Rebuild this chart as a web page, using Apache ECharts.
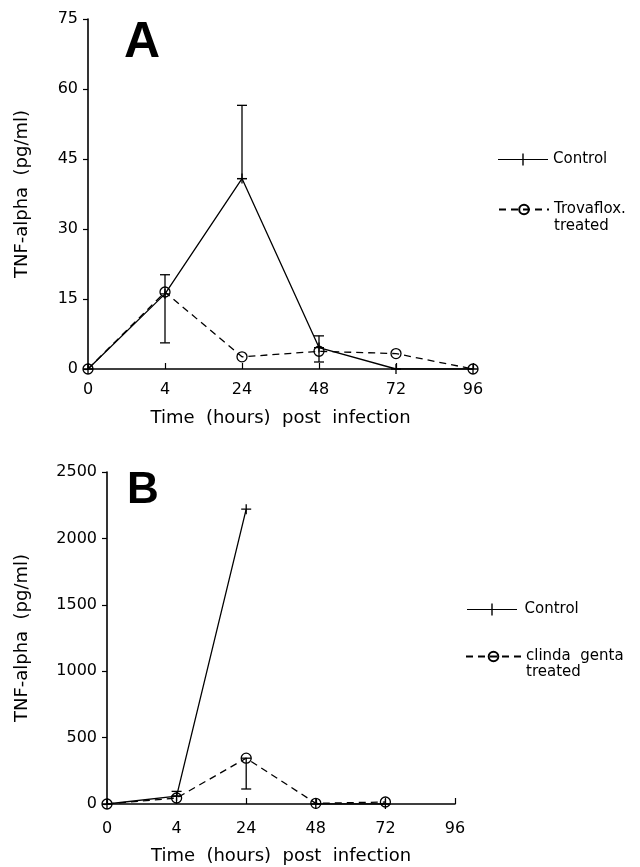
<!DOCTYPE html>
<html><head><meta charset="utf-8">
<script src="https://cdn.jsdelivr.net/npm/echarts@6/dist/echarts.min.js"></script>
<style>html,body{margin:0;padding:0;background:#fff}#c{width:640px;height:867px}</style>
</head><body><div id="c"></div>
<script>
// ---- data ----
const hours = ['0', '4', '24', '48', '72', '96'];
const yTicksA = [0, 15, 30, 45, 60, 75];
const yTicksB = [0, 500, 1000, 1500, 2000, 2500];
const controlA = [0, 16.1, 40.8, 4.6, 0, 0];
const trovafloxA = [0, 16.5, 2.6, 3.8, 3.3, 0];
const errorA = [[1, 5.6, 20.2], [2, 40.8, 56.5], [3, 1.5, 7.1]];
const controlB = [0, 60, 2220, null, null, null];
const controlBLate = [null, null, null, 0, 0, null];
const clindaB = [0, 45, 345, 5, 15, null];
const errorB = [[1, 60, 95], [2, 113, 345]];

const FONT = 'DejaVu Sans';
const black = '#000';

function errRender(params, api) {
  const x = api.value(0);
  const lo = api.coord([x, api.value(1)]);
  const hi = api.coord([x, api.value(2)]);
  const w = 5;
  const st = { stroke: black, lineWidth: 1.3 };
  return { type: 'group', children: [
    { type: 'line', shape: { x1: lo[0], y1: lo[1], x2: hi[0], y2: hi[1] }, style: st },
    { type: 'line', shape: { x1: lo[0] - w, y1: lo[1], x2: lo[0] + w, y2: lo[1] }, style: st },
    { type: 'line', shape: { x1: hi[0] - w, y1: hi[1], x2: hi[0] + w, y2: hi[1] }, style: st }
  ]};
}

function xAxis(gridIndex, nameGap, margin) {
  return {
    type: 'category', gridIndex, data: hours, boundaryGap: false,
    axisLine: { lineStyle: { color: black, width: 1.6 } },
    axisTick: { inside: true, length: 6, lineStyle: { color: black, width: 1.2 } },
    axisLabel: { color: black, fontFamily: FONT, fontSize: 16, margin },
    splitLine: { show: false },
    name: 'Time  (hours)  post  infection', nameLocation: 'middle', nameGap,
    nameTextStyle: { color: black, fontFamily: FONT, fontSize: 18 }
  };
}
function yAxis(gridIndex, ticks, nameGap) {
  return {
    type: 'value', gridIndex, min: ticks[0], max: ticks[ticks.length - 1],
    interval: ticks[1] - ticks[0],
    axisLine: { show: true, lineStyle: { color: black, width: 1.6 } },
    axisTick: { show: true, length: 5, lineStyle: { color: black, width: 1.2 } },
    axisLabel: { color: black, fontFamily: FONT, fontSize: 16, margin: 10,
      formatter: v => String(v) },
    splitLine: { show: false },
    name: 'TNF-alpha  (pg/ml)', nameLocation: 'middle', nameGap,
    nameTextStyle: { color: black, fontFamily: FONT, fontSize: 18 }
  };
}

const plusPath = 'path://M-5,-0.65L5,-0.65L5,0.65L-5,0.65Z M-0.65,-5L0.65,-5L0.65,5L-0.65,5Z';
const ctrlStyle = {
  type: 'line', symbol: plusPath, symbolSize: 10,
  itemStyle: { color: black }, lineStyle: { color: black, width: 1.3 },
  z: 5, animation: false
};
const trtStyle = {
  type: 'line', symbol: 'circle', symbolSize: 10,
  itemStyle: { color: 'rgba(255,255,255,0)', borderColor: black, borderWidth: 1.3 },
  lineStyle: { color: black, width: 1.3, type: [7, 5] },
  z: 4, animation: false
};
const ctrlIcon = 'path://M0,5.4L50,5.4L50,6.6L0,6.6Z M24.3,0L25.7,0L25.7,12L24.3,12Z';

const legendText = { color: black, fontFamily: FONT, fontSize: 15 };
const chart = echarts.init(document.getElementById('c'), null, { renderer: 'canvas' });
chart.setOption({
  backgroundColor: '#fff',
  animation: false,
  grid: [
    { left: 88, right: 167, top: 19, bottom: 498 },
    { left: 107, right: 185, top: 472, bottom: 63 }
  ],
  xAxis: [xAxis(0, 40, 13), xAxis(1, 43, 17)],
  yAxis: [yAxis(0, yTicksA, 57), yAxis(1, yTicksB, 76)],
  legend: [
    { data: [{ name: 'Control', icon: ctrlIcon }], left: 493, top: 147, itemWidth: 50, itemHeight: 12, textStyle: legendText },
    { data: ['Trovaflox.'], left: 493, top: 197, itemWidth: 50, itemHeight: 12, textStyle: legendText },
    { data: [{ name: 'Control ', icon: ctrlIcon }], left: 462, top: 597, itemWidth: 55, itemHeight: 12, textStyle: legendText },
    { data: ['clinda  genta'], left: 460, top: 644, itemWidth: 55, itemHeight: 12, textStyle: legendText }
  ],
  graphic: [
    { type: 'text', left: 554, top: 219, style: { text: 'treated', font: '15px "DejaVu Sans"', fill: black } },
    { type: 'text', left: 526, top: 665, style: { text: 'treated', font: '15px "DejaVu Sans"', fill: black } },
    { type: 'text', left: 124, top: 18, style: { text: 'A', font: 'bold 50px "Liberation Sans"', fill: black } },
    { type: 'text', left: 127, top: 469, style: { text: 'B', font: 'bold 44px "Liberation Sans"', fill: black } }
  ],
  series: [
    Object.assign({ name: 'Control', xAxisIndex: 0, yAxisIndex: 0, data: controlA }, ctrlStyle),
    Object.assign({ name: 'Trovaflox.', xAxisIndex: 0, yAxisIndex: 0, data: trovafloxA }, trtStyle),
    { name: 'errA', type: 'custom', xAxisIndex: 0, yAxisIndex: 0, renderItem: errRender,
      encode: { x: 0, y: [1, 2] }, data: errorA, z: 2, animation: false },
    Object.assign({ name: 'Control ', xAxisIndex: 1, yAxisIndex: 1, data: controlB }, ctrlStyle),
    Object.assign({ name: 'Control (late)', xAxisIndex: 1, yAxisIndex: 1, data: controlBLate }, ctrlStyle),
    Object.assign({ name: 'clinda  genta', xAxisIndex: 1, yAxisIndex: 1, data: clindaB }, trtStyle),
    { name: 'errB', type: 'custom', xAxisIndex: 1, yAxisIndex: 1, renderItem: errRender,
      encode: { x: 0, y: [1, 2] }, data: errorB, z: 2, animation: false }
  ]
});
</script></body></html>
